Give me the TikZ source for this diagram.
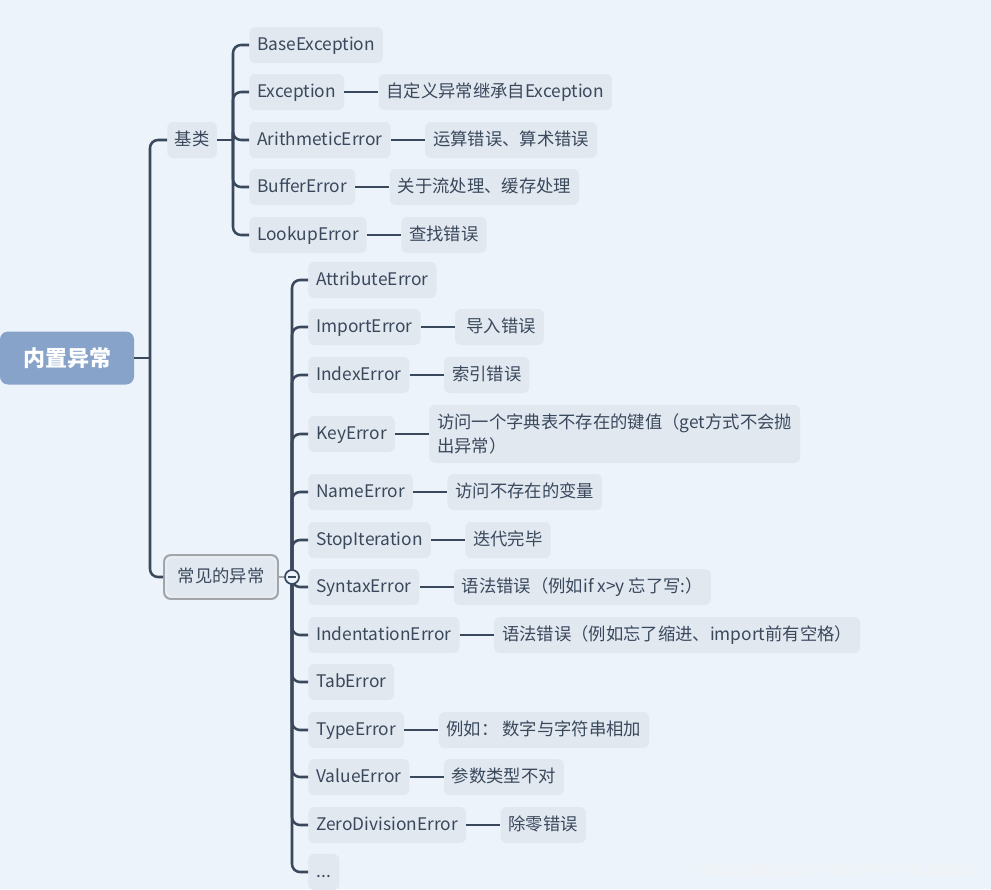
\documentclass[tikz,border=0pt]{standalone}
\usepackage{fontspec}
\setmainfont{Noto Sans CJK SC}
\usepackage{xcolor}
\usetikzlibrary{positioning,calc,fit}
\definecolor{bgblue}{HTML}{EDF3FA}
\definecolor{boxgray}{HTML}{E1E8F0}
\definecolor{inkslate}{HTML}{3A485C}
\definecolor{rootblue}{HTML}{87A3C9}
\definecolor{selgray}{HTML}{A3A6A9}

\begin{document}
\begin{tikzpicture}[x=0.75pt,y=-0.75pt,
  topic/.style={fill=boxgray,rounded corners=4.5pt,minimum height=27pt,inner xsep=6pt,inner ysep=0pt,
    text height=11pt,text depth=2.4pt,text=inkslate,font=\fontsize{13}{18}\selectfont,anchor=west},
  link/.style={draw=inkslate,line width=2.2pt},
  branch/.style={draw=inkslate,line width=1.9pt,rounded corners=6pt}]
  \fill[bgblue] (0,0) rectangle (991,889);
  \useasboundingbox (0,0) rectangle (991,889);
  % root and first level
  \node[fill=rootblue,rounded corners=6pt,minimum width=100.5pt,minimum height=39.75pt,text=white,
    font=\fontsize{16.5}{20}\selectfont\bfseries] (root) at (67,358) {内置异常};
  \node[topic,inner xsep=5.6pt] (basic) at (167,140) {基类};
  \node[topic,anchor=center,minimum width=81.75pt,minimum height=29.25pt] (common) at (221,577) {常见的异常};
  \node[fit=(common),inner sep=1.6pt,draw=selgray,line width=1.6pt,rounded corners=5pt] (commonframe) {};
  \coordinate (jroot) at (150,358);
  \coordinate (jbasic) at (233,140);
  \coordinate (jcommon) at (292,577);
  % base classes
  \node[topic] (baseexc) at (249,45) {BaseException};
  \node[topic] (exc) at (249,92) {Exception};
  \node[topic,right=25.5pt of exc] (excnote) {自定义异常继承自Exception};
  \node[topic] (arith) at (249,140) {ArithmeticError};
  \node[topic,right=25.5pt of arith] (arithnote) {运算错误、算术错误};
  \node[topic] (buffer) at (249,187) {BufferError};
  \node[topic,right=25.5pt of buffer] (buffernote) {关于流处理、缓存处理};
  \node[topic] (lookup) at (249,235) {LookupError};
  \node[topic,right=25.5pt of lookup] (lookupnote) {查找错误};
  % common exceptions
  \node[topic] (attr) at (308,280) {AttributeError};
  \node[topic] (imp) at (308,327) {ImportError};
  \node[topic,right=25.5pt of imp] (impnote) {\hspace*{2.5pt}导入错误};
  \node[topic] (idx) at (308,375) {IndexError};
  \node[topic,right=25.5pt of idx] (idxnote) {索引错误};
  \node[topic] (key) at (308,434) {KeyError};
  \node[topic,right=25.5pt of key,align=left,minimum height=43.5pt,text height={},text depth={}] (keynote) {访问一个字典表不存在的键值（get方式不会抛\\出异常）};
  \node[topic] (name) at (308,492) {NameError};
  \node[topic,right=25.5pt of name] (namenote) {访问不存在的变量};
  \node[topic] (stop) at (308,540) {StopIteration};
  \node[topic,right=25.5pt of stop] (stopnote) {迭代完毕};
  \node[topic] (syn) at (308,587) {SyntaxError};
  \node[topic,right=25.5pt of syn] (synnote) {语法错误（例如if x>y 忘了写:）};
  \node[topic] (indent) at (308,635) {IndentationError};
  \node[topic,right=25.5pt of indent] (indentnote) {语法错误（例如忘了缩进、import前有空格）};
  \node[topic] (tab) at (308,682) {TabError};
  \node[topic] (type) at (308,730) {TypeError};
  \node[topic,right=25.5pt of type] (typenote) {例如： 数字与字符串相加};
  \node[topic] (val) at (308,777) {ValueError};
  \node[topic,right=25.5pt of val] (valnote) {参数类型不对};
  \node[topic] (zero) at (308,825) {ZeroDivisionError};
  \node[topic,right=25.5pt of zero] (zeronote) {除零错误};
  \node[topic,minimum width=23.25pt] (more) at (308,872) {...};
  % connectors
  \draw[link] (root) -- (jroot);
  \draw[branch] (jroot) |- (basic); \draw[branch] (jroot) |- (commonframe);
  \draw[link] (basic) -- (jbasic);
  \draw[branch] (jbasic) |- (baseexc); \draw[branch] (jbasic) |- (exc);
  \draw[branch] (jbasic) |- (arith); \draw[branch] (jbasic) |- (buffer);
  \draw[branch] (jbasic) |- (lookup);
  \draw[link] (exc) -- (excnote); \draw[link] (arith) -- (arithnote);
  \draw[link] (buffer) -- (buffernote); \draw[link] (lookup) -- (lookupnote);
  \draw[branch] (jcommon) |- (attr); \draw[branch] (jcommon) |- (imp);
  \draw[branch] (jcommon) |- (idx); \draw[branch] (jcommon) |- (key);
  \draw[branch] (jcommon) |- (name); \draw[branch] (jcommon) |- (stop);
  \draw[branch] (jcommon) |- (syn); \draw[branch] (jcommon) |- (indent);
  \draw[branch] (jcommon) |- (tab); \draw[branch] (jcommon) |- (type);
  \draw[branch] (jcommon) |- (val); \draw[branch] (jcommon) |- (zero);
  \draw[branch] (jcommon) |- (more);
  \draw[link] (imp) -- (impnote); \draw[link] (idx) -- (idxnote);
  \draw[link] (key) -- (keynote); \draw[link] (name) -- (namenote);
  \draw[link] (stop) -- (stopnote); \draw[link] (syn) -- (synnote);
  \draw[link] (indent) -- (indentnote); \draw[link] (type) -- (typenote);
  \draw[link] (val) -- (valnote); \draw[link] (zero) -- (zeronote);
  \node[circle,draw=inkslate,line width=1.3pt,fill=bgblue,minimum size=10.5pt,inner sep=0pt] (toggle) at (jcommon) {};
  \draw[inkslate,line width=1pt] ([xshift=-3.3pt]toggle.center) -- ([xshift=3.3pt]toggle.center);
  \draw[selgray,line width=1.3pt] (commonframe) -- (toggle);
  \node[anchor=east,text=white!90!gray,font=\fontsize{11.5}{14}\selectfont] (mark) at (982,870) {https://blog.csdn.net/weixin\_42268081};
\end{tikzpicture}
\end{document}
